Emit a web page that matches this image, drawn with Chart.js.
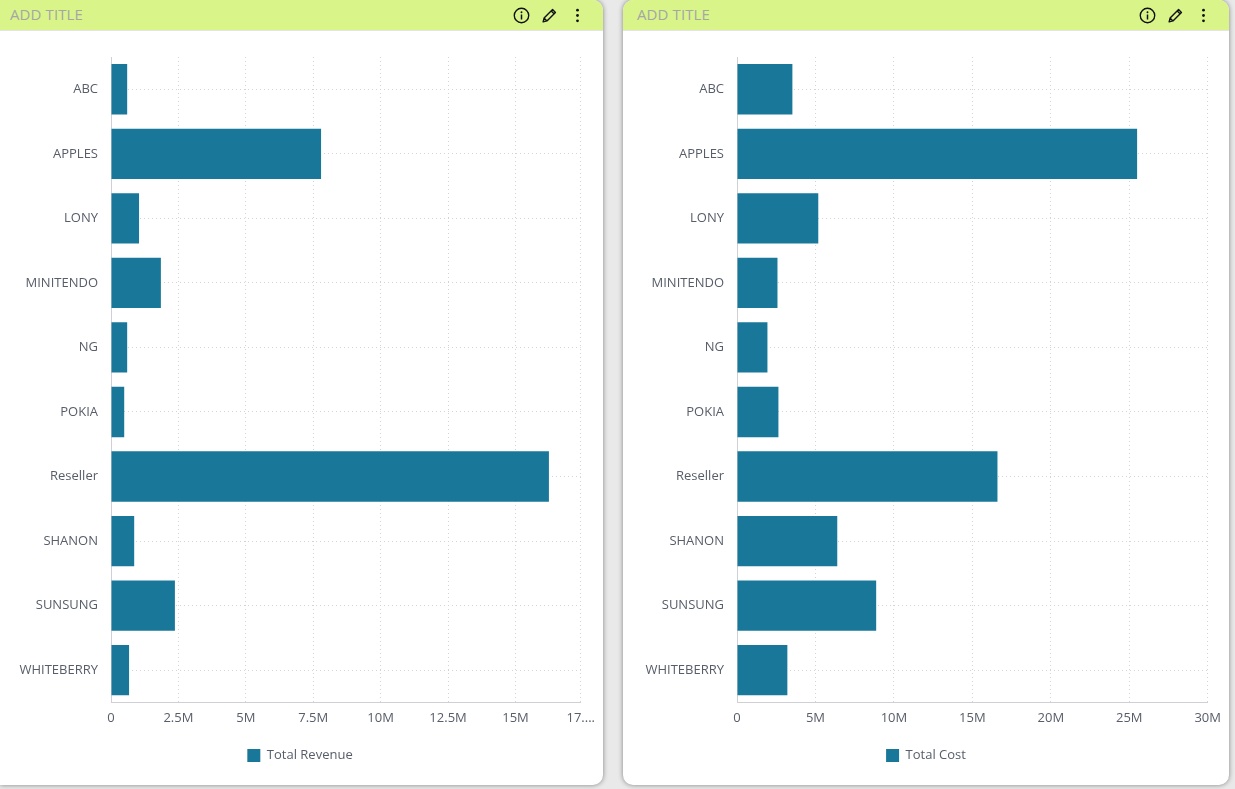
<!DOCTYPE html>
<html>
<head>
<meta charset="utf-8">
<script src="https://cdn.jsdelivr.net/npm/chart.js@4/dist/chart.umd.min.js"></script>
<style>
  html, body { margin: 0; padding: 0; }
  body { width: 1235px; height: 789px; background: #e9e9e9; position: relative; overflow: hidden; font-family: "Open Sans", sans-serif; }
  .card { position: absolute; top: 0; height: 785px; background: #fff; border-radius: 10px; box-shadow: 0 0 5px rgba(0,0,0,0.45); overflow: hidden; }
  .card.left { left: 0; width: 603px; border-radius: 0 10px 10px 0; }
  .card.right { left: 623px; width: 606px; }
  .head { position: absolute; left: 0; right: 0; top: 0; height: 30px; background: #d9f589; border-bottom: 1px solid #e4e4e4; }
  .head .title { position: absolute; left: 10px; top: 4px; font-size: 15px; color: #a6a6a6; letter-spacing: 0.1px; }
  .card.right .title { left: 14px; }
  .head .icons { position: absolute; right: 17px; top: 7px; display: flex; gap: 11px; }
  .head svg { width: 17px; height: 17px; display: block; }
  .body { position: absolute; left: 0; right: 0; top: 31px; bottom: 0; }
</style>
</head>
<body>
<div class="card left">
  <div class="head">
    <div class="title">ADD TITLE</div>
    <div class="icons">
      <svg viewBox="0 0 16 16"><circle cx="8" cy="8" r="6.8" fill="none" stroke="#111" stroke-width="1.3"/><circle cx="8" cy="4.9" r="0.9" fill="#111"/><path d="M8 7v4.8" stroke="#111" stroke-width="1.4"/></svg>
      <svg viewBox="0 0 16 16"><path d="M2 14l0.9-3.6 8-8 2.7 2.7-8 8z M9.6 3.7l2.7 2.7 M2.9 10.4l2.7 2.7" fill="none" stroke="#111" stroke-width="1.3" stroke-linejoin="round"/></svg>
      <svg viewBox="0 0 16 16"><circle cx="8" cy="3" r="1.3" fill="#111"/><circle cx="8" cy="8" r="1.3" fill="#111"/><circle cx="8" cy="13" r="1.3" fill="#111"/></svg>
    </div>
  </div>
  <div class="body"><canvas id="revenue"></canvas></div>
</div>
<div class="card right">
  <div class="head">
    <div class="title">ADD TITLE</div>
    <div class="icons">
      <svg viewBox="0 0 16 16"><circle cx="8" cy="8" r="6.8" fill="none" stroke="#111" stroke-width="1.3"/><circle cx="8" cy="4.9" r="0.9" fill="#111"/><path d="M8 7v4.8" stroke="#111" stroke-width="1.4"/></svg>
      <svg viewBox="0 0 16 16"><path d="M2 14l0.9-3.6 8-8 2.7 2.7-8 8z M9.6 3.7l2.7 2.7 M2.9 10.4l2.7 2.7" fill="none" stroke="#111" stroke-width="1.3" stroke-linejoin="round"/></svg>
      <svg viewBox="0 0 16 16"><circle cx="8" cy="3" r="1.3" fill="#111"/><circle cx="8" cy="8" r="1.3" fill="#111"/><circle cx="8" cy="13" r="1.3" fill="#111"/></svg>
    </div>
  </div>
  <div class="body"><canvas id="cost"></canvas></div>
</div>

<script>
const companies = ["ABC", "APPLES", "LONY", "MINITENDO", "NG", "POKIA", "Reseller", "SHANON", "SUNSUNG", "WHITEBERRY"];
const totalRevenue = [600000, 7790000, 1040000, 1850000, 600000, 490000, 16240000, 860000, 2370000, 670000];
const totalCost = [3530000, 25500000, 5180000, 2580000, 1940000, 2640000, 16600000, 6390000, 8870000, 3210000];
const revenueTicks = [0, 2500000, 5000000, 7500000, 10000000, 12500000, 15000000, 17420000];
const costTicks = [0, 5000000, 10000000, 15000000, 20000000, 25000000, 30000000];

const barColor = "#197899";
const textColor = "#575d69";
const font = { family: "'Open Sans', sans-serif", size: 13 };

// values in millions, long labels get cut like the dashboard does
const formatMillions = (value) => {
  if (value === 0) return "0";
  const label = Math.round(value / 1e4) / 100 + "M";
  return label.length > 5 ? label.slice(0, 2) + "...." : label;
};

const buildBarChart = (canvas, label, values, tickValues, padLeft) => {
  return new Chart(canvas, {
    type: "bar",
    data: {
      labels: companies,
      datasets: [{
        label,
        data: values,
        backgroundColor: barColor,
        borderWidth: 0,
        categoryPercentage: 0.78,
        barPercentage: 1,
      }],
    },
    options: {
      indexAxis: "y",
      responsive: true,
      maintainAspectRatio: false,
      animation: false,
      layout: { padding: { top: 26, right: 20, bottom: 13, left: padLeft } },
      plugins: {
        legend: {
          position: "bottom",
          labels: { boxWidth: 13, boxHeight: 13, color: textColor, font, padding: 15 },
        },
        tooltip: { enabled: false },
      },
      scales: {
        x: {
          min: tickValues[0],
          max: tickValues[tickValues.length - 1],
          afterBuildTicks: (scale) => {
            scale.ticks = tickValues.map((value) => ({ value }));
          },
          ticks: { color: textColor, font, padding: 8, maxRotation: 0, autoSkip: false, callback: formatMillions },
          grid: { color: "#d4d4d4", drawTicks: false },
          border: { color: "#cfcfd6", dash: [1, 3] },
        },
        y: {
          ticks: { color: textColor, font, padding: 13 },
          grid: { color: "#d4d4d4", offset: false, drawTicks: false },
          border: { color: "#cfcfd6", dash: [1, 3] },
          afterFit: (scale) => { scale.width = 94; },
        },
      },
    },
  });
};

buildBarChart(document.getElementById("revenue"), "Total Revenue", totalRevenue, revenueTicks, 17);
buildBarChart(document.getElementById("cost"), "Total Cost", totalCost, costTicks, 20);
</script>
</body>
</html>
